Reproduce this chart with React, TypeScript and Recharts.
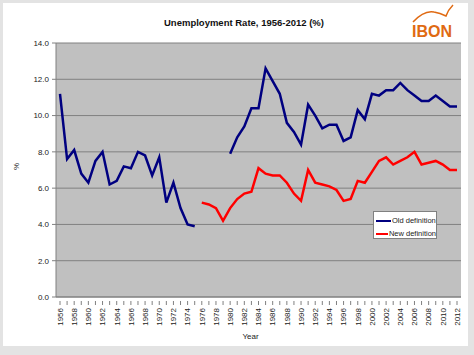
import React from "react";
import { LineChart, Line, XAxis, YAxis, CartesianGrid, Legend } from "recharts";

const years = [
  "1956", "1957", "1958", "1959", "1960", "1961", "1962", "1963", "1964", "1965",
  "1966", "1967", "1968", "1969", "1970", "1971", "1972", "1973", "1974", "1975",
  "1976", "1977", "1978", "1979", "1980", "1981", "1982", "1983", "1984", "1985",
  "1986", "1987", "1988", "1989", "1990", "1991", "1992", "1993", "1994", "1995",
  "1996", "1997", "1998", "1999", "2000", "2001", "2002", "2003", "2004", "2005",
  "2006", "2007", "2008", "2009", "2010", "2011", "2012",
];

// old definition: break between 1976 and 1979
const oldDefinition = [
  11.2, 7.6, 8.1, 6.8, 6.3, 7.5, 8.0, 6.2, 6.4, 7.2,
  7.1, 8.0, 7.8, 6.7, 7.7, 5.2, 6.3, 4.9, 4.0, 3.9,
  null, null, null, null, 7.9, 8.8, 9.4, 10.4, 10.4, 12.6,
  11.9, 11.2, 9.6, 9.1, 8.4, 10.6, 10.0, 9.3, 9.5, 9.5,
  8.6, 8.8, 10.3, 9.8, 11.2, 11.1, 11.4, 11.4, 11.8, 11.4,
  11.1, 10.8, 10.8, 11.1, 10.8, 10.5, 10.5,
];

const newDefinition = [
  null, null, null, null, null, null, null, null, null, null,
  null, null, null, null, null, null, null, null, null, null,
  5.2, 5.1, 4.9, 4.2, 4.9, 5.4, 5.7, 5.8, 7.1, 6.8,
  6.7, 6.7, 6.3, 5.7, 5.3, 7.0, 6.3, 6.2, 6.1, 5.9,
  5.3, 5.4, 6.4, 6.3, 6.9, 7.5, 7.7, 7.3, 7.5, 7.7,
  8.0, 7.3, 7.4, 7.5, 7.3, 7.0, 7.0,
];

const yTicks = [0, 2, 4, 6, 8, 10, 12, 14];

const data = years.map((year, i) => ({
  year,
  oldDef: oldDefinition[i],
  newDef: newDefinition[i],
}));

const FONT = "Arial, 'Liberation Sans', sans-serif";
const TEXT = "#222";
const AXIS = "#808080";

function YearTick(props: any) {
  const { x, y, payload, index } = props;
  return (
    <g>
      <line x1={x} y1={y - 4} x2={x} y2={y} stroke={AXIS} />
      {index % 2 === 0 && (
        <text
          x={x}
          y={y + 3}
          transform={`rotate(-90, ${x}, ${y + 3})`}
          textAnchor="end"
          dy="0.35em"
          fontSize={8}
          fill={TEXT}
          fontFamily={FONT}
        >
          {payload.value}
        </text>
      )}
    </g>
  );
}

function LegendBox() {
  const items = [
    { label: "Old definition", color: "#000080" },
    { label: "New definition", color: "#ff0000" },
  ];
  return (
    <div
      style={{
        width: 64,
        height: 28,
        background: "#fff",
        border: "1px solid #808080",
        fontFamily: FONT,
        fontSize: 7.5,
        color: TEXT,
        boxSizing: "border-box",
        paddingTop: 3,
      }}
    >
      {items.map((it) => (
        <div key={it.label} style={{ display: "flex", alignItems: "center", height: 11, marginBottom: 2 }}>
          <span style={{ display: "inline-block", width: 15, height: 2, background: it.color, marginLeft: 2 }} />
          <span style={{ marginLeft: 1, whiteSpace: "nowrap" }}>{it.label}</span>
        </div>
      ))}
    </div>
  );
}

export default function App() {
  return (
    <div style={{ position: "relative", width: 474, height: 355, background: "#e3e3e3", overflow: "hidden" }}>
      <style>{`body{margin:0}`}</style>
      <div style={{ position: "absolute", left: 3, top: 3, width: 465, height: 343, background: "#fff" }} />
      <div
        style={{
          position: "absolute",
          left: 0,
          top: 17,
          width: 488,
          textAlign: "center",
          fontFamily: FONT,
          fontWeight: "bold",
          fontSize: 9.5,
          color: "#111",
        }}
      >
        Unemployment Rate, 1956-2012 (%)
      </div>
      <svg style={{ position: "absolute", left: 0, top: 0 }} width={474} height={355}>
        <path d="M413,22 Q424,10 434,12 Q440,13 446,16 Q448,10 453,5" fill="none" stroke="#e06a12" strokeWidth={1.5} />
        <text x={432} y={37} textAnchor="middle" fontFamily={FONT} fontWeight="bold" fontSize={16} fill="#e06a12">
          IBON
        </text>
      </svg>
      <div style={{ position: "absolute", left: 0, top: 0 }}>
        <LineChart width={474} height={355} data={data} margin={{ top: 43, right: 13, left: 0, bottom: 0 }}>
          <CartesianGrid yAxisId="left" vertical={false} stroke={AXIS} fill="#c0c0c0" fillOpacity={1} strokeWidth={1} />
          <XAxis
            dataKey="year"
            interval={0}
            height={58}
            padding={{ left: 4, right: 4 }}
            axisLine={{ stroke: AXIS }}
            tickLine={false}
            tick={<YearTick />}
            label={{ value: "Year", position: "insideBottom", offset: 16, dx: -8, fontSize: 8, fill: TEXT, fontFamily: FONT }}
          />
          <YAxis
            yAxisId="left"
            domain={[0, 14]}
            ticks={yTicks}
            interval={0}
            width={56}
            tickSize={4}
            tickMargin={3}
            axisLine={{ stroke: AXIS }}
            tickLine={{ stroke: AXIS }}
            tickFormatter={(v: number) => v.toFixed(1)}
            tick={{ fontSize: 8, fill: TEXT, fontFamily: FONT }}
            label={{ value: "%", angle: -90, position: "insideLeft", offset: 16, fontSize: 8, fill: TEXT, fontFamily: FONT }}
          />
          <YAxis yAxisId="right" orientation="right" width={0} domain={[0, 14]} tick={false} tickLine={false} axisLine={{ stroke: AXIS }} />
          <Line
            yAxisId="left"
            type="linear"
            dataKey="oldDef"
            name="Old definition"
            stroke="#000080"
            strokeWidth={2.5}
            dot={false}
            isAnimationActive={false}
          />
          <Line
            yAxisId="left"
            type="linear"
            dataKey="newDef"
            name="New definition"
            stroke="#ff0000"
            strokeWidth={2.5}
            dot={false}
            isAnimationActive={false}
          />
          <Legend
            layout="horizontal"
            align="center"
            verticalAlign="middle"
            content={() => <LegendBox />}
            wrapperStyle={{ position: "absolute", left: 373, top: 211, width: 64, height: 28 }}
          />
        </LineChart>
      </div>
    </div>
  );
}
